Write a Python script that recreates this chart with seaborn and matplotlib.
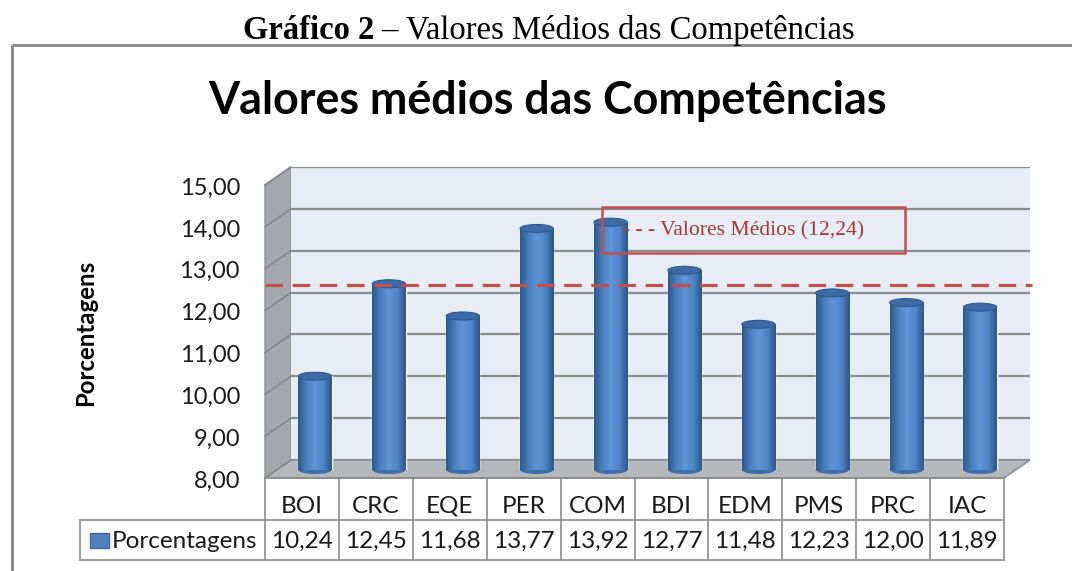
import numpy as np
import matplotlib
matplotlib.use("Agg")
import matplotlib.pyplot as plt
import matplotlib.transforms as mtrans
from matplotlib.patches import Ellipse, Polygon, Rectangle
from matplotlib.colors import LinearSegmentedColormap
import seaborn as sns

# dados
categorias = ['BOI', 'CRC', 'EQE', 'PER', 'COM', 'BDI', 'EDM', 'PMS', 'PRC', 'IAC']
porcentagens = [10.24, 12.45, 11.68, 13.77, 13.92, 12.77, 11.48, 12.23, 12.00, 11.89]
y_ticks = [8, 9, 10, 11, 12, 13, 14, 15]
serie = 'Porcentagens'
media = float(np.mean(porcentagens))


def br(v):
    # formato brasileiro: virgula decimal
    return f"{v:.2f}".replace('.', ',')


sns.set_theme(style='white')
plt.rcParams['font.family'] = ['Lato', 'DejaVu Sans']

W, H, DPI = 1072, 571, 100
fig = plt.figure(figsize=(W / DPI, H / DPI), dpi=DPI)

# layout em pixels (parede do fundo, profundidade 3D)
wall_l, wall_r, wall_t, wall_b = 291, 1030, 167, 460
dx, dy = 26, 18
front_l, front_r, front_y = wall_l - dx, wall_r - dx, wall_b + dy
slot = (wall_r - wall_l) / len(categorias)
px_per_unit = (wall_b - wall_t) / (y_ticks[-1] - y_ticks[0])

# fundo: moldura, parede lateral, piso
bg = fig.add_axes([0, 0, 1, 1], zorder=0)
bg.set_xlim(0, W)
bg.set_ylim(H, 0)
bg.axis('off')
bg.plot([12, W], [45, 45], color='#8A8A8A', lw=2.2, solid_capstyle='butt')
bg.plot([12, 12], [45, H], color='#8A8A8A', lw=2.2, solid_capstyle='butt')
bg.add_patch(Polygon([(front_l, wall_t + dy), (wall_l, wall_t), (wall_l, wall_b), (front_l, front_y)],
                     closed=True, facecolor='#A4A7AB', edgecolor='#8E9195', lw=1))
for v in y_ticks:
    yb = wall_b - (v - y_ticks[0]) * px_per_unit
    bg.plot([front_l, wall_l], [yb + dy, yb], color='#85888C', lw=1.3)
bg.add_patch(Polygon([(front_l, front_y), (wall_l, wall_b), (wall_r, wall_b), (front_r, front_y)],
                     closed=True, facecolor='#B5B8BB', edgecolor='#8E9195', lw=1.2))

# grafico principal (parede do fundo)
ax = fig.add_axes([wall_l / W, 1 - wall_b / H, (wall_r - wall_l) / W, (wall_b - wall_t) / H], zorder=1)
ax.set_facecolor('#E8ECF5')
sns.barplot(x=categorias, y=porcentagens, color='#4F81BD', saturation=1, width=0.45,
            errorbar=None, ax=ax)

depth = mtrans.ScaledTranslation(0, -10 / DPI, fig.dpi_scale_trans)
clip = Rectangle((0, -10 / (wall_b - wall_t)), 1, 2, transform=ax.transAxes)
grad = np.linspace(0, 1, 256).reshape(1, -1)
cyl = LinearSegmentedColormap.from_list('cyl', ['#2C578A', '#4A7FC0', '#6096D8', '#4F85C6', '#2A5485'])
cap_h = 8 / px_per_unit

for p in list(ax.patches):
    p.set_transform(ax.transData + depth)
    p.set_clip_path(clip)
    x0, w, h = p.get_x(), p.get_width(), p.get_height()
    im = ax.imshow(grad, extent=[x0, x0 + w, y_ticks[0], h], aspect='auto', cmap=cyl,
                   origin='lower', interpolation='bicubic', zorder=2.1)
    im.set_transform(ax.transData + depth)
    im.set_clip_on(False)
    ax.add_patch(Ellipse((x0 + w / 2, y_ticks[0]), w, cap_h, transform=ax.transData + depth,
                         facecolor='#3D6EAB', edgecolor='none', zorder=2.0, clip_on=False))
    ax.add_patch(Ellipse((x0 + w / 2, h), w, cap_h, transform=ax.transData + depth,
                         facecolor='#3C6BA6', edgecolor='#2E5A8E', lw=0.8, zorder=2.2, clip_on=False))

ax.set_xlim(-(315 - wall_l) / slot, len(categorias) - (315 - wall_l) / slot)
ax.set_ylim(y_ticks[0], y_ticks[-1])
ax.set_yticks(y_ticks)
ax.yaxis.grid(True, color='#8C8C8C', lw=1.6)
ax.xaxis.grid(False)
ax.set_axisbelow(True)
ax.tick_params(left=False, labelleft=False, bottom=False, labelbottom=False)
ax.set_xlabel('')
ax.set_ylabel('')
for s in ax.spines.values():
    s.set_visible(False)

# rotulos do eixo y (plano da frente)
lab_tr = ax.get_yaxis_transform() + mtrans.ScaledTranslation(0, -21 / DPI, fig.dpi_scale_trans)
for v in y_ticks:
    ax.text(-(wall_l - 240) / (wall_r - wall_l), v, br(v), transform=lab_tr, ha='right',
            va='center', fontsize=17, color='#1A1A1A', clip_on=False)

# linha da media
ax.plot([-dx / (wall_r - wall_l), 1.003], [media, media],
        transform=ax.get_yaxis_transform() + mtrans.ScaledTranslation(0, -3 / DPI, fig.dpi_scale_trans),
        color='#C0504D', lw=2.3, ls=(0, (5.5, 3)), clip_on=False, zorder=5)

# camada de cima: titulos, legenda, tabela
top = fig.add_axes([0, 0, 1, 1], zorder=2)
top.set_xlim(0, W)
top.set_ylim(H, 0)
top.axis('off')

top.text(374, 39, 'Gráfico 2', ha='right', va='baseline', fontsize=23.5, fontweight='bold',
         family='Liberation Serif', color='black')
top.text(374, 39, ' – Valores Médios das Competências', ha='left', va='baseline', fontsize=23.5,
         family='Liberation Serif', color='black')
top.text(548, 114, 'Valores médios das Competências', ha='center', va='baseline', fontsize=32.3,
         fontweight='bold', color='black')
top.text(86, 333, serie, ha='center', va='center', rotation=90, fontsize=17.3,
         fontweight='bold', color='black')

top.add_patch(Rectangle((602, 207), 303, 46, facecolor='none', edgecolor='#C0504D', lw=1.8))
top.text(623, 231, '- - - Valores Médios (' + br(media) + ')', ha='left', va='center', fontsize=15.6,
         family='Liberation Serif', color='#A5393A')

# tabela de dados
line_c = '#8C8C8C'
top.plot([front_l, front_r], [front_y, front_y], color=line_c, lw=1.2)
for yy in (520, 560):
    top.plot([80, front_r], [yy, yy], color=line_c, lw=1.2)
top.plot([80, 80], [520, 560], color=line_c, lw=1.2)
for i in range(len(categorias) + 1):
    xx = front_l + i * slot
    top.plot([xx, xx], [front_y, 560], color=line_c, lw=1.2)
for i, (c, v) in enumerate(zip(categorias, porcentagens)):
    xc = front_l + (i + 0.5) * slot
    top.text(xc, 513, c, ha='center', va='baseline', fontsize=17.5, color='#1A1A1A')
    top.text(xc, 548, br(v), ha='center', va='baseline', fontsize=17.5, color='#1A1A1A')
top.add_patch(Rectangle((90, 533), 19, 15, facecolor='#4F81BD', edgecolor='#3A6AA5', lw=1))
top.text(112, 548, serie, ha='left', va='baseline', fontsize=17.5, color='#1A1A1A')

fig.savefig('out.png', dpi=DPI)
